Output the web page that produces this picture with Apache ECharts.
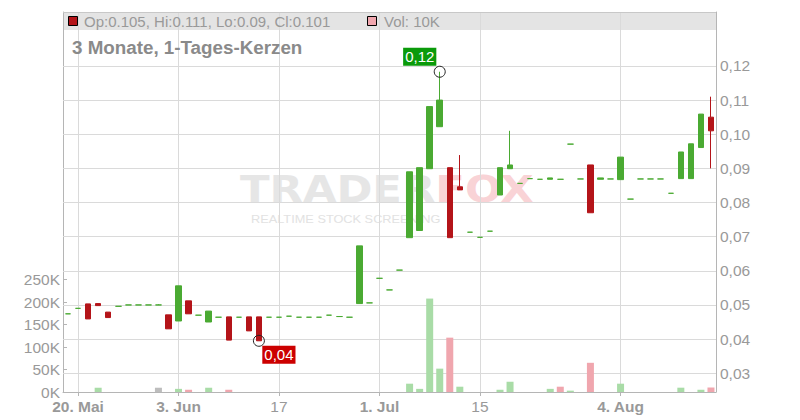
<!DOCTYPE html>
<html><head><meta charset="utf-8">
<script src="https://cdn.jsdelivr.net/npm/echarts@6/dist/echarts.min.js"></script>
<style>html,body{margin:0;padding:0;background:#fff}#c{width:800px;height:420px}</style>
</head><body><div id="c"></div>
<script>
// ---- data ----
const categories = [
'2025-05-19','2025-05-20','2025-05-21','2025-05-22','2025-05-23','2025-05-26','2025-05-27','2025-05-28','2025-05-29','2025-05-30',
'2025-06-02','2025-06-03','2025-06-04','2025-06-05','2025-06-06','2025-06-09','2025-06-10','2025-06-11','2025-06-12','2025-06-13',
'2025-06-16','2025-06-17','2025-06-18','2025-06-19','2025-06-20','2025-06-23','2025-06-24','2025-06-25','2025-06-26','2025-06-27',
'2025-06-30','2025-07-01','2025-07-02','2025-07-03','2025-07-04','2025-07-07','2025-07-08','2025-07-09','2025-07-10','2025-07-11',
'2025-07-14','2025-07-15','2025-07-16','2025-07-17','2025-07-18','2025-07-21','2025-07-22','2025-07-23','2025-07-24','2025-07-25',
'2025-07-28','2025-07-29','2025-07-30','2025-07-31','2025-08-01','2025-08-04','2025-08-05','2025-08-06','2025-08-07','2025-08-08',
'2025-08-11','2025-08-12','2025-08-13','2025-08-14','2025-08-15'];
const opens = [
0.0474,0.0490,0.0503,0.0504,0.0479,0.0496,0.0500,0.0500,0.0500,0.0500,
0.0471,0.0453,0.0512,0.0470,0.0450,0.0464,0.0465,0.0464,0.0465,0.0465,
0.0464,0.0464,0.0467,0.0464,0.0464,0.0464,0.0470,0.0466,0.0464,0.0504,
0.0506,0.0578,0.0544,0.0602,0.0697,0.0718,0.0899,0.1022,0.0902,0.0846,
0.0713,0.0698,0.0716,0.0822,0.0899,0.0856,0.0870,0.0868,0.0868,0.0868,
0.0971,0.0869,0.0910,0.0868,0.0869,0.0867,0.0810,0.0869,0.0869,0.0869,
0.0827,0.0870,0.0870,0.0961,0.105];
const closes = [
0.0474,0.0490,0.0459,0.0498,0.0463,0.0496,0.0500,0.0500,0.0500,0.0500,
0.0430,0.0556,0.0474,0.0470,0.0482,0.0464,0.0397,0.0464,0.0424,0.0395,
0.0464,0.0464,0.0467,0.0464,0.0464,0.0464,0.0470,0.0466,0.0464,0.0673,
0.0506,0.0578,0.0544,0.0602,0.0890,0.0902,0.1081,0.1100,0.0697,0.0837,
0.0713,0.0698,0.0716,0.0902,0.0910,0.0856,0.0870,0.0868,0.0872,0.0868,
0.0971,0.0869,0.0770,0.0872,0.0869,0.0933,0.0810,0.0869,0.0869,0.0869,
0.0827,0.0948,0.0972,0.1059,0.101];
const lows = [
0.0474,0.0490,0.0459,0.0498,0.0463,0.0496,0.0500,0.0500,0.0500,0.0500,
0.0430,0.0453,0.0474,0.0470,0.0450,0.0464,0.0397,0.0464,0.0424,0.0395,
0.0464,0.0464,0.0467,0.0464,0.0464,0.0464,0.0470,0.0466,0.0464,0.0504,
0.0506,0.0578,0.0544,0.0602,0.0697,0.0718,0.0899,0.1022,0.0697,0.0837,
0.0713,0.0698,0.0716,0.0822,0.0899,0.0856,0.0870,0.0868,0.0868,0.0868,
0.0971,0.0869,0.0770,0.0868,0.0869,0.0867,0.0810,0.0869,0.0869,0.0869,
0.0827,0.0870,0.0870,0.0961,0.090];
const highs = [
0.0474,0.0490,0.0503,0.0504,0.0479,0.0496,0.0500,0.0500,0.0500,0.0502,
0.0471,0.0556,0.0512,0.0470,0.0482,0.0464,0.0465,0.0464,0.0465,0.0465,
0.0464,0.0464,0.0467,0.0464,0.0464,0.0464,0.0470,0.0466,0.0464,0.0673,
0.0506,0.0578,0.0544,0.0602,0.0890,0.0902,0.1081,0.1183,0.0902,0.0939,
0.0713,0.0698,0.0716,0.0902,0.1010,0.0856,0.0870,0.0868,0.0872,0.0868,
0.0971,0.0869,0.0910,0.0872,0.0869,0.0933,0.0810,0.0869,0.0869,0.0869,
0.0827,0.0948,0.0972,0.1059,0.111];
const volumes = [
0,0,0,9500,0,0,0,0,0,9500,
0,7000,5000,0,9500,0,5000,0,0,0,
0,0,0,0,0,0,0,0,0,0,
0,0,0,0,18500,7000,208000,52000,121000,11800,
0,0,0,5000,23000,0,0,0,7000,11800,
3000,0,65000,0,0,18500,0,0,0,0,
0,9600,0,5000,10000];
const xTickDates  = ['2025-05-20','2025-06-03','2025-06-17','2025-07-01','2025-07-15','2025-08-04'];
const xTickLabels = ['20. Mai','3. Jun','17','1. Jul','15','4. Aug'];
const priceTicks  = [0.03,0.04,0.05,0.06,0.07,0.08,0.09,0.10,0.11,0.12];
const volumeTicks = [0,50000,100000,150000,200000,250000];
const titleText = '3 Monate, 1-Tages-Kerzen';

// ---- styles ----
const UP = '#4aaa32', DOWN = '#b41419';
const VUP = '#a9dca7', VDOWN = '#f0a6ae', VFLAT = '#bdbdbd';
const GRIDC = '#dadada', AXISC = '#b5b5b5', TXT = '#999';
const FONT = 'Liberation Sans, Arial, sans-serif';

const candleData = categories.map((d, i) => {
  const item = { value: [opens[i], closes[i], lows[i], highs[i]] };
  if (opens[i] === closes[i]) {
    item.itemStyle = { color: UP, color0: UP, borderColor: UP, borderColor0: UP, borderColorDoji: UP };
  }
  return item;
});
const volData = volumes.map((v, i) => {
  if (!v) return null;
  const prev = i > 0 ? closes[i - 1] : closes[i];
  const col = closes[i] > prev ? VUP : (closes[i] < prev ? VDOWN : VFLAT);
  return { value: v, itemStyle: { color: col } };
});

const tickIdx = xTickDates.map(d => categories.indexOf(d));
const isTick = (i) => tickIdx.indexOf(i) >= 0;

const maxH = Math.max(...highs), idxHi = highs.indexOf(maxH);
const minL = Math.min(...lows), idxLo = lows.indexOf(minL);
const fmt2 = v => v.toFixed(2).replace('.', ',');

const last = categories.length - 1;
const headText = 'Op:' + opens[last] + ', Hi:' + highs[last] + ', Lo:' + lows[last] + ', Cl:' + closes[last];
const volText = 'Vol: ' + Math.round(volumes[last] / 1000) + 'K';

const gridLines = xTickDates.map(d => ({ xAxis: d })).concat(priceTicks.map(v => ({ yAxis: v })));

const chart = echarts.init(document.getElementById('c'), null, { renderer: 'svg' });
chart.setOption({
  animation: false,
  backgroundColor: '#fff',
  textStyle: { fontFamily: FONT },
  grid: { left: 63, right: 84, top: 12, bottom: 28, containLabel: false },
  xAxis: {
    type: 'category', data: categories, boundaryGap: true,
    axisLine: { show: true, lineStyle: { color: AXISC } },
    axisTick: { show: true, alignWithLabel: true, length: 4, interval: (i) => isTick(i), lineStyle: { color: AXISC } },
    axisLabel: {
      interval: (i) => isTick(i), margin: 6,
      formatter: (val) => {
        const k = xTickDates.indexOf(val);
        if (k < 0) return '';
        const t = xTickLabels[k];
        return /[A-Za-z]/.test(t) ? '{b|' + t + '}' : '{n|' + t + '}';
      },
      rich: {
        b: { fontWeight: 'bold', fontSize: 15.5, color: TXT, fontFamily: FONT },
        n: { fontSize: 15.5, color: TXT, fontFamily: FONT }
      }
    },
    splitLine: { show: false }
  },
  yAxis: [
    {
      type: 'value', position: 'right', min: 0.0245, max: 0.1358, scale: true,
      axisLine: { show: true, lineStyle: { color: AXISC } },
      axisTick: { show: true, inside: true, length: 4, customValues: priceTicks, lineStyle: { color: AXISC } },
      axisLabel: { customValues: priceTicks, margin: 4, color: TXT, fontSize: 15.5, fontFamily: FONT, formatter: v => fmt2(v) },
      splitLine: { show: false }
    },
    {
      type: 'value', position: 'left', min: 0, max: 846000,
      axisLine: { show: true, lineStyle: { color: AXISC } },
      axisTick: { show: true, inside: true, length: 4, customValues: volumeTicks, lineStyle: { color: AXISC } },
      axisLabel: { customValues: volumeTicks, margin: 3, color: TXT, fontSize: 15.5, fontFamily: FONT, formatter: v => Math.round(v / 1000) + 'K' },
      splitLine: { show: false }
    }
  ],
  series: [
    {
      type: 'bar', name: 'Vol', xAxisIndex: 0, yAxisIndex: 1, data: volData, barWidth: 7, z: 2, silent: true
    },
    {
      type: 'candlestick', name: 'Kurs', xAxisIndex: 0, yAxisIndex: 0, data: candleData, barWidth: 6, z: 3,
      itemStyle: { color: UP, color0: DOWN, borderColor: UP, borderColor0: DOWN, borderColorDoji: UP, borderWidth: 1 },
      markLine: {
        silent: true, z: 1, symbol: ['none', 'none'], label: { show: false },
        lineStyle: { color: GRIDC, type: 'solid', width: 1 },
        emphasis: { disabled: true },
        data: gridLines
      },
      markPoint: {
        symbol: 'circle', symbolSize: 11, silent: true,
        itemStyle: { color: 'rgba(0,0,0,0)', borderColor: '#222', borderWidth: 1 },
        data: [
          { coord: [categories[idxHi], maxH], value: maxH,
            label: { show: true, position: 'inside', offset: [-20, -15], formatter: p => fmt2(p.value),
              color: '#fff', fontSize: 15, fontFamily: FONT, backgroundColor: '#0a9a0a', padding: [2, 2, 1, 2] } },
          { coord: [categories[idxLo], minL], value: minL,
            label: { show: true, position: 'inside', offset: [20, 14], formatter: p => fmt2(p.value),
              color: '#fff', fontSize: 15, fontFamily: FONT, backgroundColor: '#cc0000', padding: [2, 2, 1, 2] } }
        ]
      }
    }
  ],
  graphic: [
    { type: 'rect', z: -5, silent: true, shape: { x: 63, y: 12, width: 653, height: 18 }, style: { fill: '#e4e4e4' } },
    { type: 'line', z: 10, silent: true, shape: { x1: 63, y1: 12.5, x2: 716, y2: 12.5 }, style: { stroke: '#c8c8c8', lineWidth: 1 } },
    { type: 'rect', z: 10, silent: true, shape: { x: 68.5, y: 16.5, width: 9, height: 9 }, style: { fill: DOWN, stroke: '#000', lineWidth: 1 } },
    { type: 'text', z: 10, silent: true, x: 84, y: 21.5, style: { text: headText, fill: TXT, fontSize: 15, fontFamily: FONT, verticalAlign: 'middle' } },
    { type: 'rect', z: 10, silent: true, shape: { x: 367.5, y: 16.5, width: 9, height: 9 }, style: { fill: VDOWN, stroke: '#000', lineWidth: 1 } },
    { type: 'text', z: 10, silent: true, x: 384, y: 21.5, style: { text: volText, fill: TXT, fontSize: 15, fontFamily: FONT, verticalAlign: 'middle' } },
    { type: 'text', z: 10, silent: true, x: 72, y: 47.5, style: { text: titleText, fill: '#8a8a8a', fontSize: 18.8, fontWeight: 'bold', fontFamily: FONT, verticalAlign: 'middle' } },
    { type: 'text', z: -4, silent: true, x: 240, y: 189, scaleX: 1.14, style: {
        text: '{a|TRADER}{b|FOX}', verticalAlign: 'middle',
        rich: { a: { fill: '#e6e6e6', fontSize: 38, fontWeight: 'bold', fontFamily: 'DejaVu Sans, sans-serif' },
                b: { fill: '#f9d3d6', fontSize: 38, fontWeight: 'bold', fontFamily: 'DejaVu Sans, sans-serif' } } } },
    { type: 'text', z: -4, silent: true, x: 251, y: 219.5, scaleX: 1.16, style: { text: 'REALTIME STOCK SCREENING', fill: '#e2e2e2', fontSize: 11, fontFamily: FONT, verticalAlign: 'middle' } }
  ]
});
</script>
</body></html>
